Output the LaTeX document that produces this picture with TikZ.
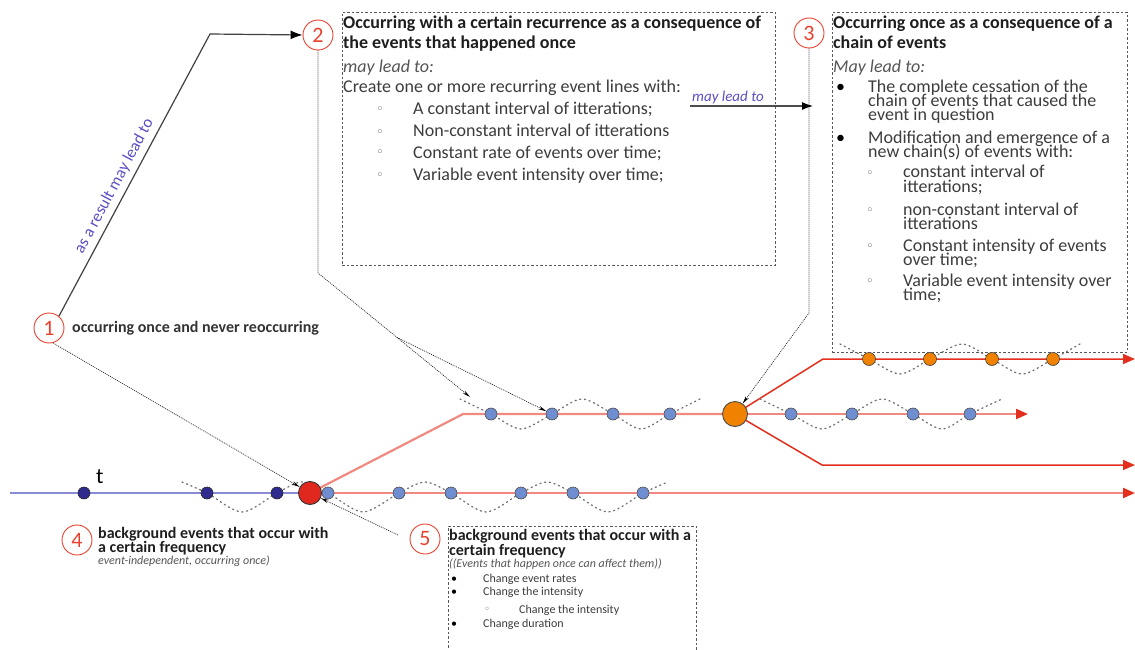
\documentclass[tikz,border=0pt]{standalone}
\usepackage{fontspec}
\setmainfont{Carlito}
\newfontfamily\symfont{DejaVu Sans}
\usetikzlibrary{arrows.meta,calc}
\pgfdeclarelayer{bg}
\pgfsetlayers{bg,main}
\newcommand{\lnstack}[2]{\vtop{\baselineskip=#1\lineskiplimit=-60pt\relax #2}}
\definecolor{numred}{HTML}{E8412F}
\definecolor{tlblue}{HTML}{8A8AD6}
\definecolor{tlred}{HTML}{F08A80}
\definecolor{brred}{HTML}{E3301E}
\definecolor{dkblue}{HTML}{2E2A8E}
\definecolor{ltblue}{HTML}{6F8ED2}
\definecolor{evorange}{HTML}{F08200}
\definecolor{evred}{HTML}{E0281E}
\definecolor{lblblue}{HTML}{5A4FC4}
\definecolor{txtdark}{HTML}{1E1E1E}
\definecolor{txtgray}{HTML}{3C3C3C}
\definecolor{txtital}{HTML}{555555}
\definecolor{bulgray}{HTML}{5A5A5A}
\begin{document}
\begin{tikzpicture}[x=1pt,y=-1pt,
  num/.style={circle,draw=numred,line width=0.9pt,text=numred,minimum size=30pt,inner sep=0pt,font=\fontsize{22}{22}\selectfont},
  dkdot/.style={circle,fill=dkblue,draw=black!85,line width=0.6pt,minimum size=12pt,inner sep=0pt},
  ltdot/.style={circle,fill=ltblue,draw=black!70,line width=0.6pt,minimum size=12pt,inner sep=0pt},
  ordot/.style={circle,fill=evorange,draw=black!75,line width=0.6pt,minimum size=13pt,inner sep=0pt},
  bigred/.style={circle,fill=evred,draw=black!80,line width=0.9pt,minimum size=23pt,inner sep=0pt},
  bigor/.style={circle,fill=evorange,draw=black!70,line width=0.9pt,minimum size=25pt,inner sep=0pt},
  boxst/.style={draw=black!65,line width=0.9pt,dash pattern=on 2.5pt off 2pt,inner sep=0pt,anchor=north west},
  txt/.style={anchor=base west,inner sep=0pt},
  tbig/.style={txt,text=txtdark,font=\fontsize{18}{18}\selectfont\bfseries},
  tbody/.style={txt,text=txtgray,font=\fontsize{18}{18}\selectfont},
  tital/.style={txt,text=txtital,font=\fontsize{18}{18}\selectfont\itshape},
  tmid/.style={txt,text=txtdark,font=\fontsize{16}{16}\selectfont\bfseries},
  tsmall/.style={txt,text=txtgray,font=\fontsize{12}{12}\selectfont},
  tsmital/.style={txt,text=txtital,font=\fontsize{12}{12}\selectfont\itshape},
  subbul/.style={txt,text=bulgray,font=\symfont\fontsize{13}{13}\selectfont},
  tlb/.style={draw=tlblue,line width=2.4pt},
  tlr/.style={draw=tlred,line width=2.2pt},
  brr/.style={draw=brred,line width=1.5pt},
  redtip/.style={-{Triangle[length=12pt,width=10pt,color=brred]}},
  wave/.style={draw=black!55,line width=1.3pt,dash pattern=on 1.2pt off 3.6pt,line cap=round},
  annot/.style={draw=black!85,line width=0.7pt,dash pattern=on 1pt off 1pt},
  annottip/.style={-{Stealth[length=8pt,width=3.5pt,color=black]}},
  mainarrow/.style={draw=black!75,line width=1.2pt,-{Latex[length=12pt,width=9pt,color=black]}}
]
\useasboundingbox (0,0) rectangle (1135,650);

% ---------- event nodes ----------
\node[bigred] (redE) at (310,493) {};
\node[bigor] (orangeE) at (735,414) {};
\node[dkdot] (d1) at (84,493) {};
\node[dkdot] (d2) at (207,493) {};
\node[dkdot] (d3) at (277,493) {};
\node[ltdot] (b1) at (328,493) {};
\node[ltdot] (b2) at (399,493) {};
\node[ltdot] (b3) at (451,493) {};
\node[ltdot] (b4) at (521,493) {};
\node[ltdot] (b5) at (573,493) {};
\node[ltdot] (b6) at (643,493) {};
\node[ltdot] (u1) at (491,414) {};
\node[ltdot] (u2) at (552,414) {};
\node[ltdot] (u3) at (613,414) {};
\node[ltdot] (u4) at (670,414) {};
\node[ltdot] (v1) at (791,414) {};
\node[ltdot] (v2) at (852,414) {};
\node[ltdot] (v3) at (913,414) {};
\node[ltdot] (v4) at (970,414) {};
\node[ordot] (o1) at (869,359) {};
\node[ordot] (o2) at (930,359) {};
\node[ordot] (o3) at (992,359) {};
\node[ordot] (o4) at (1053,359) {};

% ---------- coordinates ----------
\coordinate (startB) at (10,493);
\coordinate (endA) at (1135,493);
\coordinate (kinkA) at (463,414);
\coordinate (endB) at (1028,414);
\coordinate (kinkT) at (823,359);
\coordinate (endT) at (1135,359);
\coordinate (kinkL) at (822,465);
\coordinate (endL) at (1135,465);

% ---------- timelines ----------
\begin{pgfonlayer}{bg}
\draw[tlb] (startB) -- (redE.center);
\draw[tlr,redtip] (redE.center) -- (endA);
\draw[tlr] (redE.center) -- (kinkA) -- (orangeE.center);
\draw[tlr,redtip] (orangeE.center) -- (endB);
\draw[brr,redtip] (orangeE.center) -- (kinkT) -- (endT);
\draw[brr,redtip] (orangeE.center) -- (kinkL) -- (endL);
% waves
\draw[wave] plot[smooth] coordinates {(182,482) (207,493) (242,512) (277,493) (302,482) (328,493) (363,512) (399,493) (425,482) (451,493) (486,512) (521,493) (547,482) (573,493) (608,512) (643,493) (668,482)};
\draw[wave] plot[smooth] coordinates {(460,399) (491,414) (521,429) (552,414) (582,399) (613,414) (641,429) (670,414) (700,399)};
\draw[wave] plot[smooth] coordinates {(760,399) (791,414) (822,429) (852,414) (882,399) (913,414) (942,429) (970,414) (1002,399)};
\draw[wave] plot[smooth] coordinates {(840,344) (869,359) (900,374) (930,359) (962,344) (992,359) (1022,374) (1053,359) (1080,344)};
\end{pgfonlayer}

% ---------- numbered circles ----------
\node[num] (c1) at (49,328) {1};
\node[num] (c2) at (318,35) {2};
\node[num] (c3) at (809,33) {3};
\node[num] (c4) at (77,540) {4};
\node[num] (c5) at (425,539) {5};

% ---------- boxes ----------
\node[boxst,minimum width=433pt,minimum height=253pt] (box2) at (342,12) {};
\node[boxst,minimum width=295pt,minimum height=340pt] (box3) at (832,12) {};
\coordinate (box5tl) at (448,526);
\draw[draw=black!65,line width=0.9pt,dash pattern=on 2.5pt off 2pt] (448,652) -- (box5tl) -- (696,526) -- (696,652);

% ---------- main arrow 1 -> 2 ----------
\coordinate (k1) at (210,34);
\draw[mainarrow] (c1.50) -- node[pos=0.44,sloped,above,inner sep=5pt,text=lblblue,font=\fontsize{16.5}{16.5}\selectfont] (lbl1) {as a result may lead to} (k1) -- (c2.west);

% ---------- annotation connectors ----------
\coordinate (k2) at (318,273);
\coordinate (k2a) at (470,397);
\coordinate (k3) at (809,313);
\coordinate (k5) at (398,535);
\draw[annot,annottip] (c1.-75) -- (redE);
\draw[annot,annottip] (c2.south) -- (k2) -- (k2a);
\draw[annot,annottip] ($(k2)!0.52!(k2a)$) -- (u2);
\draw[annot,annottip] (c3.south) -- (k3) -- (orangeE);
\draw[annot,annottip] (k5) -- (redE);

% ---------- may lead to arrow ----------
\coordinate (mlA) at (690,106);
\coordinate (mlB) at (813,106);
\draw[draw=black!70,line width=1.1pt,-{Latex[length=11pt,width=8pt,color=black]}] (mlA) -- (mlB);
\node[txt,text=lblblue,font=\fontsize{15}{15}\selectfont\itshape] (ml) at (692,102) {may lead to};

% ---------- texts ----------
\node[txt,text=black,font=\fontsize{22}{22}\selectfont] (tlab) at (96,483) {t};
\node[tmid,text=black!80] (t1) at (72,332) {occurring once and never reoccurring};

\node[tbig] (t2a) at (343,29) {Occurring with a certain recurrence as a consequence of};
\node[tbig] (t2b) at (343,49) {the events that happened once};
\node[tital] (t2c) at (343,73) {may lead to:};
\node[tbody] (t2d) at (343,93) {Create one or more recurring event lines with:};
\node[subbul] (s2a) at (376,114) {◦};
\node[subbul] (s2b) at (376,136) {◦};
\node[subbul] (s2c) at (376,157) {◦};
\node[subbul] (s2d) at (376,179) {◦};
\node[tbody] (t2e) at (413,115) {A constant interval of itterations;};
\node[tbody] (t2f) at (413,137) {Non-constant interval of itterations};
\node[tbody] (t2g) at (413,158) {Constant rate of events over time;};
\node[tbody] (t2h) at (413,180) {Variable event intensity over time;};

\node[tbig] (t3a) at (833,29) {\lnstack{20pt}{\hbox{Occurring once as a consequence of a}\hbox{chain of events}}};
\node[tital] (t3c) at (833,73) {May lead to:};
\node[tbody,text=black] (p3a) at (836,93) {•};
\node[tbody,text=black] (p3b) at (836,143) {•};
\node[tbody] (t3d) at (868,93) {\lnstack{14pt}{\hbox{The complete cessation of the}\hbox{chain of events that caused the}\hbox{event in question}}};
\node[tbody] (t3g) at (868,143) {\lnstack{14pt}{\hbox{Modification and emergence of a}\hbox{new chain(s) of events with:}}};
\node[subbul] (s3a) at (866,177) {◦};
\node[subbul] (s3b) at (866,214) {◦};
\node[subbul] (s3c) at (866,250) {◦};
\node[subbul] (s3d) at (866,285) {◦};
\node[tbody] (t3i) at (903,178) {\lnstack{14.5pt}{\hbox{constant interval of}\hbox{itterations;}}};
\node[tbody] (t3k) at (903,215) {\lnstack{14pt}{\hbox{non-constant interval of}\hbox{itterations}}};
\node[tbody] (t3m) at (903,251) {\lnstack{14pt}{\hbox{Constant intensity of events}\hbox{over time;}}};
\node[tbody] (t3o) at (903,286) {\lnstack{14pt}{\hbox{Variable event intensity over}\hbox{time;}}};

\node[tmid] (t4a) at (98,538) {\lnstack{14pt}{\hbox{background events that occur with}\hbox{a certain frequency}}};
\node[tsmital] (t4c) at (98,564) {event-independent, occurring once)};

\node[tmid] (t5a) at (449,540) {\lnstack{15pt}{\hbox{background events that occur with a}\hbox{certain frequency}}};
\node[tsmital] (t5c) at (449,567) {((Events that happen once can affect them))};
\node[tsmall,text=black] (p5a) at (451,582) {•};
\node[tsmall,text=black] (p5b) at (451,595) {•};
\node[tsmall,text=black] (p5c) at (451,627) {•};
\node[tsmall] (t5d) at (483,582) {Change event rates};
\node[tsmall] (t5e) at (483,595) {Change the intensity};
\node[subbul,font=\symfont\fontsize{10}{10}\selectfont] (s5a) at (484,612) {◦};
\node[tsmall] (t5f) at (519,613) {Change the intensity};
\node[tsmall] (t5g) at (483,627) {Change duration};
\end{tikzpicture}
\end{document}
